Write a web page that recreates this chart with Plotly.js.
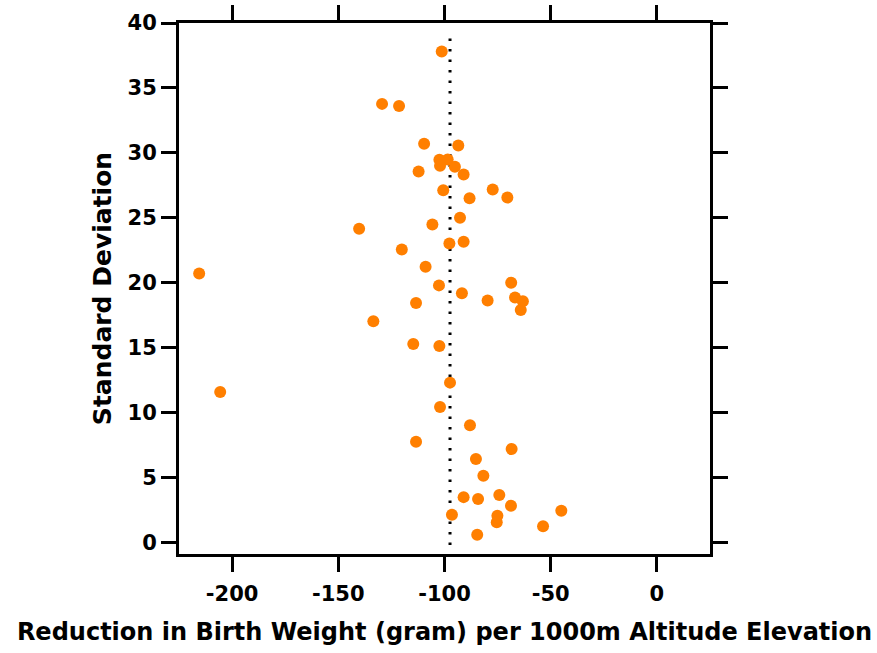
<!DOCTYPE html>
<html>
<head>
<meta charset="utf-8">
<script src="https://cdn.plot.ly/plotly-3.0.1.min.js"></script>
<style>html,body{margin:0;padding:0;background:#fff;}#chart{width:877px;height:653px;}</style>
</head>
<body>
<div id="chart"></div>
<script>
// Reduction in birth weight (g per 1000 m) per study
const reduction = [-101.3,-129.4,-121.4,-109.6,-93.5,-102.4,-98.5,-102.1,-95.1,-91.0,-112.2,-100.6,-77.3,-88.2,-70.4,-92.7,-105.7,-140.2,-97.7,-91.0,-120.1,-108.9,-215.5,-68.6,-102.6,-91.8,-113.4,-79.7,-66.8,-63.1,-64.1,-133.5,-114.7,-102.4,-205.6,-97.4,-102.1,-88.0,-113.4,-68.4,-85.2,-81.7,-91.0,-84.2,-74.2,-68.7,-45.0,-96.5,-75.1,-75.4,-53.6,-84.6];
// Standard deviation per study
const stdDev = [37.8,33.77,33.6,30.7,30.56,29.46,29.48,29.0,28.92,28.33,28.56,27.12,27.18,26.5,26.56,25.0,24.48,24.15,23.02,23.15,22.56,21.23,20.7,20.0,19.79,19.18,18.43,18.62,18.85,18.56,17.9,17.02,15.28,15.12,11.58,12.3,10.43,9.02,7.74,7.18,6.41,5.12,3.48,3.33,3.64,2.82,2.43,2.13,2.05,1.54,1.23,0.58];
// Pooled mean reference line
const meanLineX = [-97.4, -97.4];
const meanLineY = [-0.2, 39.3];
const xTickVals = [-200, -150, -100, -50, 0];
const yTickVals = [0, 5, 10, 15, 20, 25, 30, 35, 40];

const font = '"DejaVu Sans", sans-serif';
const traces = [
  {x: meanLineX, y: meanLineY, mode: 'lines', type: 'scatter',
   line: {color: '#000', width: 3, dash: '2.5px,8px'}, hoverinfo: 'skip', showlegend: false},
  {x: reduction, y: stdDev, mode: 'markers', type: 'scatter',
   marker: {color: '#FF7F00', size: 12}, showlegend: false}
];
const layout = {
  width: 877, height: 653,
  margin: {l: 179, r: 167, t: 23, b: 99},
  paper_bgcolor: '#fff', plot_bgcolor: '#fff',
  showlegend: false,
  xaxis: {
    range: [-225, 25], tickvals: xTickVals, ticktext: xTickVals.map(v => '<b>' + v + '</b>'),
    showgrid: false, zeroline: false,
    showline: true, linecolor: '#000', linewidth: 3, mirror: 'ticks',
    ticks: 'outside', ticklen: 15, tickwidth: 3, tickcolor: '#000',
    ticklabelstandoff: 4,
    tickfont: {family: font, size: 21, color: '#000'},
    title: {text: '<b>Reduction in Birth Weight (gram) per 1000m Altitude Elevation</b>',
            font: {family: font, size: 24, color: '#000'}, standoff: 18},
    automargin: false
  },
  yaxis: {
    range: [-0.9, 40], tickvals: yTickVals, ticktext: yTickVals.map(v => '<b>' + v + '</b>'),
    showgrid: false, zeroline: false,
    showline: true, linecolor: '#000', linewidth: 3, mirror: 'ticks',
    ticks: 'outside', ticklen: 15, tickwidth: 3, tickcolor: '#000',
    tickfont: {family: font, size: 21, color: '#000'},
    title: {text: '<b>Standard Deviation</b>', font: {family: font, size: 25, color: '#000'}, standoff: 9},
    automargin: false
  }
};
Plotly.newPlot('chart', traces, layout, {displayModeBar: false, staticPlot: true});
</script>
</body>
</html>
